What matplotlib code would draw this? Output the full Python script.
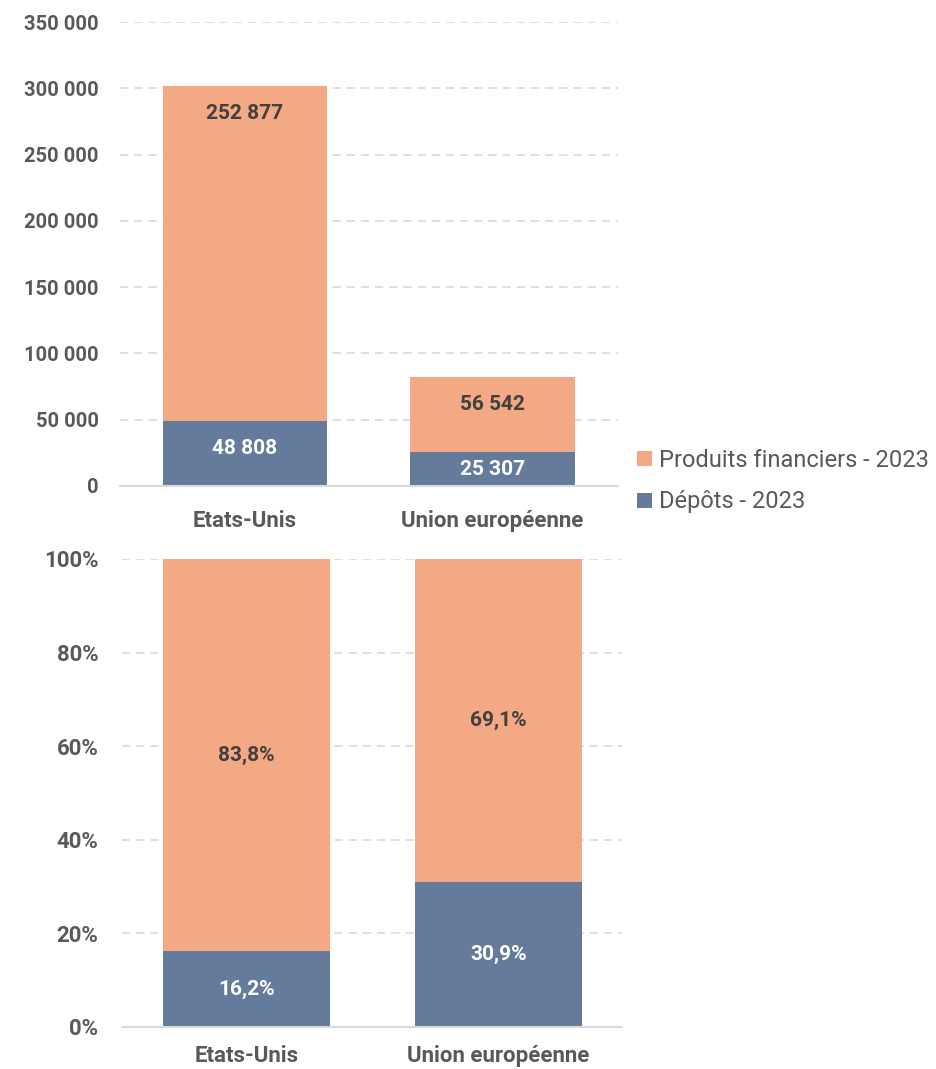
import matplotlib.pyplot as plt
import numpy as np

# data
categories = ['Etats-Unis', 'Union européenne']
depots = [48808, 25307]
produits = [252877, 56542]
series_names = ['Produits financiers - 2023', 'Dépôts - 2023']
yticks_abs = [0, 50000, 100000, 150000, 200000, 250000, 300000, 350000]
yticks_pct = [0, 20, 40, 60, 80, 100]

col_prod = '#F2A984'
col_dep = '#647B9B'
grey = '#595959'
grid_col = '#D9D9D9'

plt.rcParams['font.family'] = ['Roboto', 'DejaVu Sans']


def fmt_num(v):
    return f'{v:,.0f}'.replace(',', ' ')


def style_axis(ax, xsize):
    for s in ['top', 'right', 'left']:
        ax.spines[s].set_visible(False)
    ax.spines['bottom'].set_color(grid_col)
    ax.spines['bottom'].set_linewidth(1.5)
    ax.tick_params(axis='both', length=0, labelcolor=grey)
    ax.tick_params(axis='y', pad=15, labelsize=14.5)
    ax.tick_params(axis='x', pad=17, labelsize=xsize)
    ax.yaxis.grid(True, color=grid_col, linestyle=(0, (5, 3.5)), linewidth=1.2)
    ax.set_axisbelow(True)
    for lab in ax.get_xticklabels() + ax.get_yticklabels():
        lab.set_fontweight('bold')


fig = plt.figure(figsize=(9.36, 10.69), dpi=100)
ax1 = fig.add_axes([0.128, 0.5454, 0.532, 0.434])
ax2 = fig.add_axes([0.1303, 0.0393, 0.5342, 0.4378])

x = np.arange(len(categories))
dep = np.array(depots)
prod = np.array(produits)
tot = dep + prod

# top chart: absolute values
b_prod = ax1.bar(x, prod, bottom=dep, width=0.665, color=col_prod, label=series_names[0])
b_dep = ax1.bar(x, dep, width=0.665, color=col_dep, label=series_names[1])
ax1.set_ylim(0, 350000)
ax1.set_xlim(-0.506, 1.506)
ax1.set_yticks(yticks_abs)
ax1.set_yticklabels([fmt_num(v) for v in yticks_abs])
ax1.set_xticks(x)
ax1.set_xticklabels(categories)
style_axis(ax1, 16)

off = 20400  # labels sit near the inside end of the segment
for i in range(len(x)):
    y_p = max(tot[i] - off, dep[i] + prod[i] / 2)
    ax1.text(x[i], y_p, fmt_num(prod[i]), ha='center', va='center',
             fontsize=15, fontweight='bold', color='#404040')
    y_d = max(dep[i] - off, dep[i] / 2)
    ax1.text(x[i], y_d, fmt_num(dep[i]), ha='center', va='center',
             fontsize=15, fontweight='bold', color='white')

# bottom chart: shares
dep_pct = dep / tot * 100
prod_pct = prod / tot * 100
ax2.bar(x, prod_pct, bottom=dep_pct, width=0.663, color=col_prod)
ax2.bar(x, dep_pct, width=0.663, color=col_dep)
ax2.set_ylim(0, 100)
ax2.set_xlim(-0.494, 1.49)
ax2.set_yticks(yticks_pct)
ax2.set_yticklabels([f'{v}%' for v in yticks_pct])
ax2.set_xticks(x)
ax2.set_xticklabels(categories)
style_axis(ax2, 16)
ax2.tick_params(axis='y', pad=17, labelsize=16)
ax2.tick_params(axis='x', pad=13)

for i in range(len(x)):
    ax2.text(x[i], dep_pct[i] + prod_pct[i] / 2, f'{prod_pct[i]:.1f}%'.replace('.', ','),
             ha='center', va='center', fontsize=15, fontweight='bold', color='#404040')
    ax2.text(x[i], dep_pct[i] / 2, f'{dep_pct[i]:.1f}%'.replace('.', ','),
             ha='center', va='center', fontsize=15, fontweight='bold', color='white')

fig.legend(handles=[b_prod, b_dep], loc='center left', bbox_to_anchor=(0.681, 0.550),
           frameon=False, fontsize=17, labelcolor=grey, handlelength=0.6,
           handleheight=0.6, handletextpad=0.3, labelspacing=0.8, borderpad=0,
           borderaxespad=0)

plt.savefig('out.png', dpi=100)
